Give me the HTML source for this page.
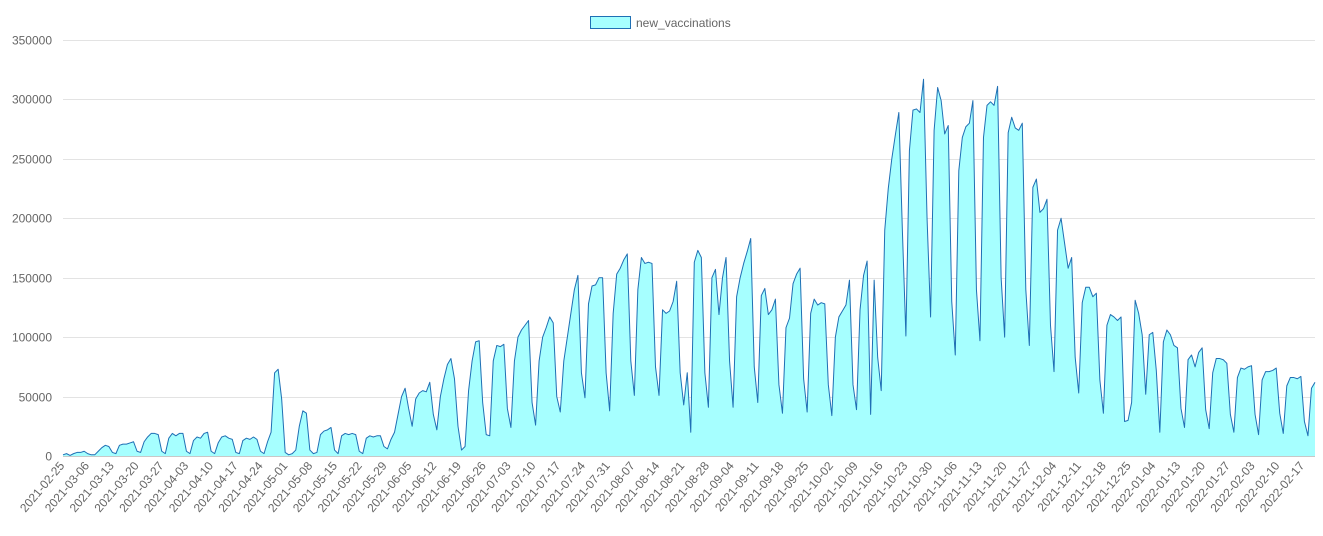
<!DOCTYPE html>
<html><head><meta charset="utf-8"><style>
body{margin:0;background:#fff;}
svg{display:block;font-family:"Liberation Sans",sans-serif;}
</style></head><body>
<svg id="chart" width="1323" height="536" viewBox="0 0 1323 536">
<g id="legend">
<rect x="590.5" y="16.5" width="40" height="12" fill="#a6ffff" stroke="#1f6fb4" stroke-width="1"/>
<text x="636" y="27" font-size="12" fill="#666">new_vaccinations</text>
</g>
<g id="grid"></g><g id="area"></g><g id="xaxis"></g><g id="yaxis"></g>
</svg>
<script>
const yTicks=[0,50000,100000,150000,200000,250000,300000,350000];
const tickLabels=["2021-02-25","2021-03-06","2021-03-13","2021-03-20","2021-03-27","2021-04-03","2021-04-10","2021-04-17","2021-04-24","2021-05-01","2021-05-08","2021-05-15","2021-05-22","2021-05-29","2021-06-05","2021-06-12","2021-06-19","2021-06-26","2021-07-03","2021-07-10","2021-07-17","2021-07-24","2021-07-31","2021-08-07","2021-08-14","2021-08-21","2021-08-28","2021-09-04","2021-09-11","2021-09-18","2021-09-25","2021-10-02","2021-10-09","2021-10-16","2021-10-23","2021-10-30","2021-11-06","2021-11-13","2021-11-20","2021-11-27","2021-12-04","2021-12-11","2021-12-18","2021-12-25","2022-01-04","2022-01-13","2022-01-20","2022-01-27","2022-02-03","2022-02-10","2022-02-17"];
const valuesK=[1,2,0.5,2,3,3,4, 2,1,1,4,7,9,8, 3,2,9,10,10,11,12, 4,3,12,16,19,19,18, 4,2,15,19,17,19,19, 4,2,13,16,15,19,20, 4,2,11,16,17,15,14, 3,2,13,15,14,16,14, 4,2,12,20,70,73,48, 3,1,2,5,25,38,36, 5,2,3,18,21,22,24, 5,2,17,19,18,19,18, 4,2,15,17,16,17,17, 8,6,14,20,35,50,57, 40,25,48,53,55,54,62, 35,22,50,65,77,82,65, 25,5,8,55,80,96,97, 45,18,17,80,93,92,94,
40,24,80,100,106,110,114,45,26,80,100,108,117,112,50,37,80,100,120,140,152,70,49,128,143,144,150,150,70,38,120,153,158,165,170,80,51,140,167,162,163,162,75,51,123,120,122,130,147,70,43,70,20,163,173,167,70,41,150,157,119,150,167,80,41,134,150,162,172,183,75,45,135,141,119,123,132,60,36,108,116,145,153,158,65,37,120,132,127,129,128,60,34,100,117,122,127,148,60,39,123,152,164,35,148,83,55,190,225,250,270,289,190,101,257,291,292,289,317,200,117,274,310,299,271,278,130,85,240,268,277,280,299,140,97,268,295,298,295,311,150,100,272,285,276,274,280,140,93,226,233,205,208,216,110,71,190,200,179,158,167,83,53,129,142,142,134,137,64,36,110,119,117,114,117,29,30,45,131,120,102,52,102,104,72,20,96,106,102,93,91,40,24,81,85,75,87,91,39,23,70,82,82,81,78,35,20,66,74,73,75,76,35,18,64,71,71,72,74,36,19,59,66,66,65,67,29,17,57,62];
const values=valuesK.map(v=>v*1000);
const X0=63,X1=1315,Y0=456,Y1=40,YMAX=350000;
const n=values.length;
const xScale=i=>X0+i*(X1-X0)/(n-1);
const yScale=v=>Y0-v/YMAX*(Y0-Y1);
const NS="http://www.w3.org/2000/svg";
function mk(tag,attrs,parent){const e=document.createElementNS(NS,tag);for(const k in attrs)e.setAttribute(k,attrs[k]);parent.appendChild(e);return e;}
const grid=document.getElementById('grid'),yaxis=document.getElementById('yaxis'),xaxis=document.getElementById('xaxis'),area=document.getElementById('area');
yTicks.forEach(t=>{
 const y=Math.round(yScale(t))+0.5;
 const l=mk('line',{x1:X0,x2:X1,y1:y,y2:y,stroke:t===0?'#c8c8c8':'#e3e3e3','stroke-width':1},grid);
 
 
 const tx=mk('text',{x:52,y:y+4,'text-anchor':'end','font-size':12,fill:'#666'},yaxis);
 
 
 tx.textContent=String(t);
});
let d='M'+xScale(0)+','+yScale(0);
values.forEach((v,i)=>{d+=' L'+xScale(i).toFixed(2)+','+yScale(v).toFixed(2);});
const lineD=values.map((v,i)=>(i?'L':'M')+xScale(i).toFixed(2)+','+yScale(v).toFixed(2)).join(' ');
d+=' L'+xScale(n-1)+','+yScale(0)+' Z';
const fillP=mk('path',{d:d,fill:'#a6ffff',stroke:'none'},area);


const lineP=mk('path',{d:lineD,fill:'none',stroke:'#1f6fb4','stroke-width':1,'stroke-linejoin':'round'},area);


const lblStep=(1305-65)/(tickLabels.length-1);
tickLabels.forEach((lab,k)=>{
 const x=65+k*lblStep, y=466;
 const tx=mk('text',{x:x,y:y,'text-anchor':'end','font-size':12,fill:'#666',transform:'rotate(-50 '+x+' '+y+')'},xaxis);
 
 
 tx.textContent=lab;
});
</script>
</body></html>
